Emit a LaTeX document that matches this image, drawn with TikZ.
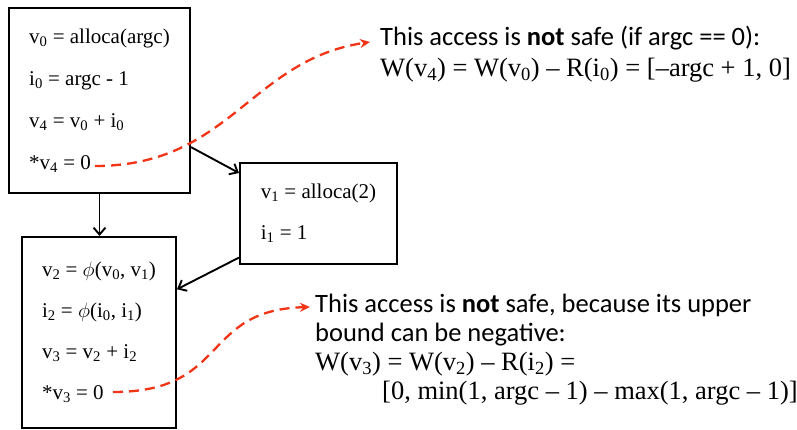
\documentclass[tikz,border=0pt]{standalone}
\usepackage{fontspec}
\setmainfont{Liberation Serif}
\newfontfamily\notefont{Carlito}
\usetikzlibrary{arrows.meta}

\definecolor{hotred}{RGB}{242,52,22}
\newcommand{\subs}[1]{\textsubscript{#1}}

\begin{document}
\begin{tikzpicture}[x=1pt,y=-1pt,
    blk/.style={draw, line width=2pt, align=left, inner sep=0pt,
      font=\fontsize{21}{25}\selectfont},
    flow/.style={-{Straight Barb[length=7pt,width=12pt]}, line width=1.9pt},
    hint/.style={-{Stealth[length=10pt,width=9pt]}, hotred, line width=2.3pt,
      dash pattern=on 10pt off 6pt},
    note/.style={anchor=north west, align=left, inner sep=0pt,
      font=\notefont\fontsize{26.5}{31}\selectfont}]
    \useasboundingbox (0,0) rectangle (797,429);

    % basic blocks
    \node[blk, minimum width=181pt, minimum height=185pt] (b1) at (99.5,100.5)
        {v\subs{0} = alloca(argc)\\[17pt] i\subs{0} = argc - 1\\[17pt]
         v\subs{4} = v\subs{0} + i\subs{0}\\[17pt] *v\subs{4} = 0};
    \node[blk, minimum width=157pt, minimum height=101pt] (b2) at (318.5,213.5)
        {v\subs{1} = alloca(2)\\[16pt] i\subs{1} = 1};
    \node[blk, minimum width=154pt, minimum height=191pt] (b3) at (99,332.5)
        {v\subs{2} = $\phi$(v\subs{0}, v\subs{1})\\[16pt] i\subs{2} = $\phi$(i\subs{0}, i\subs{1})\\[16pt]
         v\subs{3} = v\subs{2} + i\subs{2}\\[16pt] *v\subs{3} = 0};

    % control flow
    \draw[flow] (b1.south) -- (b1.south |- b3.north);
    \draw[flow] (b1.-27) -- (b2.153);
    \draw[flow] (b2.209) -- (b3.29);

    % remarks
    \node[note] (n1) at (380,26)
        {This access is \textbf{not} safe (if argc == 0):\\
         {\rmfamily W(v\subs{4}) = W(v\subs{0}) -- R(i\subs{0}) = [--argc + 1, 0]}};
    \node[note, font=\notefont\fontsize{26.5}{29}\selectfont] (n2) at (315,294)
        {This access is \textbf{not} safe, because its upper\\
         bound can be negative:\\
         {\rmfamily W(v\subs{3}) = W(v\subs{2}) -- R(i\subs{2}) =}\\
         \hspace*{67pt}{\rmfamily [0, min(1, argc -- 1) -- max(1, argc -- 1)]}};

    \coordinate (s4) at (95,166);
    \coordinate (t4) at (370,42);
    \coordinate (s3) at (113,392);
    \coordinate (t3) at (310,307);
    \draw[hint] (s4) .. controls (230,166) and (250,60) .. (t4);
    \draw[hint] (s3) .. controls (230,392) and (200,310) .. (t3);
\end{tikzpicture}
\end{document}
